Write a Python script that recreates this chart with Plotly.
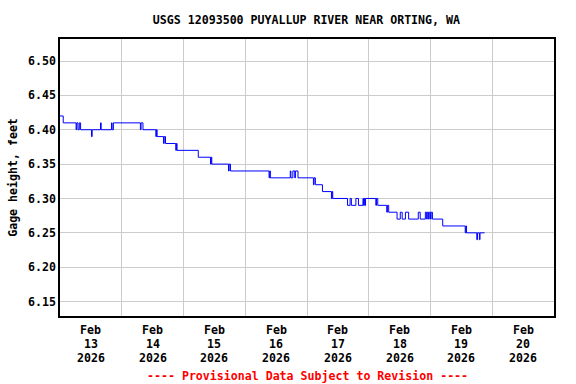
import plotly.graph_objects as go

# Change points of the stepped gage-height record (15-min data, values in feet)
times = [
    "2026-02-13 00:00", "2026-02-13 01:15", "2026-02-13 06:15", "2026-02-13 06:30",
    "2026-02-13 07:00", "2026-02-13 07:30", "2026-02-13 08:00", "2026-02-13 12:15",
    "2026-02-13 12:30", "2026-02-13 15:45", "2026-02-13 16:00", "2026-02-13 20:00",
    "2026-02-13 20:15", "2026-02-13 20:45", "2026-02-14 07:15", "2026-02-14 07:30",
    "2026-02-14 08:15", "2026-02-14 13:15", "2026-02-14 13:30", "2026-02-14 13:45",
    "2026-02-14 16:15", "2026-02-14 16:30", "2026-02-14 17:00", "2026-02-14 21:00",
    "2026-02-14 21:15", "2026-02-14 21:30", "2026-02-15 05:45", "2026-02-15 10:30",
    "2026-02-15 10:45", "2026-02-15 11:00", "2026-02-15 17:30", "2026-02-15 17:45",
    "2026-02-15 18:15", "2026-02-16 09:15", "2026-02-16 09:30", "2026-02-16 09:45",
    "2026-02-16 17:30", "2026-02-16 17:45", "2026-02-16 18:30", "2026-02-16 19:15",
    "2026-02-16 19:30", "2026-02-16 20:30", "2026-02-17 02:30", "2026-02-17 02:45",
    "2026-02-17 03:15", "2026-02-17 06:00", "2026-02-17 09:30", "2026-02-17 09:45",
    "2026-02-17 10:00", "2026-02-17 15:45", "2026-02-17 16:45", "2026-02-17 17:15",
    "2026-02-17 19:00", "2026-02-17 20:00", "2026-02-17 21:45", "2026-02-17 22:00",
    "2026-02-17 22:15", "2026-02-17 22:30", "2026-02-17 22:45", "2026-02-18 02:45",
    "2026-02-18 03:00", "2026-02-18 03:30", "2026-02-18 07:00", "2026-02-18 07:15",
    "2026-02-18 07:45", "2026-02-18 11:00", "2026-02-18 12:15", "2026-02-18 13:00",
    "2026-02-18 14:15", "2026-02-18 15:30", "2026-02-18 19:15", "2026-02-18 20:00",
    "2026-02-18 22:00", "2026-02-18 22:30", "2026-02-18 22:45", "2026-02-18 23:15",
    "2026-02-18 23:30", "2026-02-19 00:00", "2026-02-19 00:15", "2026-02-19 00:45",
    "2026-02-19 04:45", "2026-02-19 13:30", "2026-02-19 13:45", "2026-02-19 14:00",
    "2026-02-19 18:00", "2026-02-19 18:15", "2026-02-19 19:00", "2026-02-19 19:15",
    "2026-02-19 21:00",
]
gage_ft = [
    6.42, 6.41, 6.40, 6.41,
    6.40, 6.41, 6.40, 6.39,
    6.40, 6.41, 6.40, 6.41,
    6.40, 6.41, 6.40, 6.41,
    6.40, 6.39, 6.40, 6.39,
    6.38, 6.39, 6.38, 6.37,
    6.38, 6.37, 6.36, 6.35,
    6.36, 6.35, 6.34, 6.35,
    6.34, 6.33, 6.34, 6.33,
    6.34, 6.33, 6.34, 6.33,
    6.34, 6.33, 6.32, 6.33,
    6.32, 6.31, 6.30, 6.31,
    6.30, 6.29, 6.30, 6.29,
    6.30, 6.29, 6.30, 6.29,
    6.30, 6.29, 6.30, 6.29,
    6.30, 6.29, 6.28, 6.29,
    6.28, 6.27, 6.28, 6.27,
    6.28, 6.27, 6.28, 6.27,
    6.28, 6.27, 6.28, 6.27,
    6.28, 6.27, 6.28, 6.27,
    6.26, 6.25, 6.26, 6.25,
    6.24, 6.25, 6.24, 6.25,
    6.25,
]

month_label = "Feb"
day_labels = ["13", "14", "15", "16", "17", "18", "19", "20"]
year_label = "2026"
tick_positions = ["2026-02-%s 12:00" % d for d in day_labels]
y_ticks = [6.15, 6.20, 6.25, 6.30, 6.35, 6.40, 6.45, 6.50]

title_text = "USGS 12093500 PUYALLUP RIVER NEAR ORTING, WA"
y_title = "Gage height, feet"
note_text = "---- Provisional Data Subject to Revision ----"

FONT = "DejaVu Sans Mono"
FS = 11.6
PLOT_TOP, PLOT_BOTTOM = 39, 316
PLOT_H = PLOT_BOTTOM - PLOT_TOP


def paper_y(px):
    return (PLOT_BOTTOM - px) / PLOT_H


fig = go.Figure()
fig.add_trace(go.Scatter(
    x=times, y=gage_ft, mode="lines",
    line=dict(color="#0000FF", width=1, shape="hv"),
    showlegend=False, hoverinfo="x+y",
))

annotations = []
for pos, d in zip(tick_positions, day_labels):
    for text, py in ((month_label, 330), (d, 344), (year_label, 358)):
        annotations.append(dict(
            text=text, x=pos, xref="x", y=paper_y(py), yref="paper",
            xanchor="center", yanchor="middle", showarrow=False,
            font=dict(family=FONT, size=FS, color="black", weight="bold")))
annotations.append(dict(
    text=note_text, xref="paper", yref="paper",
    x=0.5, y=paper_y(376), xanchor="center", yanchor="middle", showarrow=False,
    font=dict(family=FONT, size=FS, color="#FF0000", weight="bold")))

fig.update_layout(
    width=576, height=384,
    margin=dict(l=58, r=22, t=PLOT_TOP, b=384 - PLOT_BOTTOM),
    paper_bgcolor="white", plot_bgcolor="white",
    font=dict(family=FONT, size=12, color="black", weight="bold"),
    title=dict(text=title_text, x=0.532, xanchor="center", xref="container",
               y=1 - 20 / 384, yanchor="middle", yref="container",
               font=dict(family=FONT, size=FS, color="black", weight="bold")),
    annotations=annotations,
)

fig.update_xaxes(
    type="date", range=["2026-02-13 00:00", "2026-02-21 00:00"],
    tickmode="array", tickvals=tick_positions, ticktext=[""] * len(tick_positions),
    showgrid=False, ticks="", showticklabels=True,
    minor=dict(dtick=86400000, tick0="2026-02-13", showgrid=True,
               gridcolor="#CCCCCC", gridwidth=1, ticks=""),
    showline=True, mirror=True, linecolor="black", linewidth=1.5,
    zeroline=False, fixedrange=True,
)
fig.update_yaxes(
    range=[6.129, 6.532], tickmode="array", tickvals=y_ticks, tickformat=".2f",
    showgrid=True, gridcolor="#CCCCCC", gridwidth=1, ticks="",
    tickfont=dict(family=FONT, size=FS, color="black", weight="bold"),
    title=dict(text=y_title, standoff=8,
               font=dict(family=FONT, size=FS, color="black", weight="bold")),
    showline=True, mirror=True, linecolor="black", linewidth=1.5,
    zeroline=False, fixedrange=True,
)

fig.write_html("out.html", config={"displayModeBar": False},
               post_script="document.body.style.margin='0px';")
